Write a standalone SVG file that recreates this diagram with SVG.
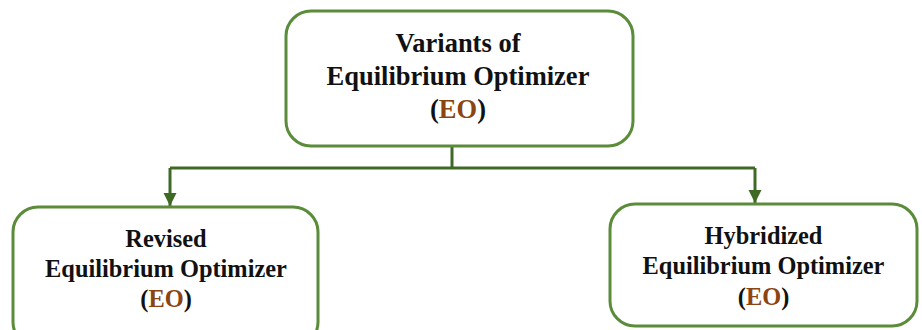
<svg xmlns="http://www.w3.org/2000/svg" width="922" height="330" viewBox="0 0 922 330">
<defs>
<style>
.box{fill:#fff;stroke:#5b8c3a;stroke-width:3}
.t{font-family:"Liberation Serif","Times New Roman",serif;font-weight:bold;fill:#111;text-anchor:middle}
.eo{fill:#8b4513}
.c{fill:none;stroke:#3f6a26;stroke-width:3}
</style>
<marker id="ah" viewBox="0 0 10 10" refX="10" refY="5" markerWidth="4.5" markerHeight="4.5" markerUnits="strokeWidth" orient="auto">
<path d="M0,0 L10,5 L0,10 z" fill="#3f6a26"/>
</marker>
</defs>
<rect width="922" height="330" fill="#fff"/>
<g id="connectors">
<path class="c" d="M452,146 V168"/>
<path class="c" d="M170,168 H755"/>
<path class="c" d="M170,168 V206" marker-end="url(#ah)"/>
<path class="c" d="M755,168 V203" marker-end="url(#ah)"/>
</g>
<g id="n-top">
<rect class="box" x="286" y="11" width="347" height="135" rx="25"/>
<text class="t" font-size="26.5" x="458" y="52">Variants of</text>
<text class="t" font-size="26.5" x="458" y="85">Equilibrium Optimizer</text>
<text class="t" font-size="26.5" x="458" y="118">(<tspan class="eo">EO</tspan>)</text>
</g>
<g id="n-revised">
<rect class="box" x="13" y="207" width="305" height="140" rx="25"/>
<text class="t" font-size="24.4" x="166" y="247">Revised</text>
<text class="t" font-size="24.4" x="166" y="277">Equilibrium Optimizer</text>
<text class="t" font-size="24.4" x="166" y="307">(<tspan class="eo">EO</tspan>)</text>
</g>
<g id="n-hybrid">
<rect class="box" x="610" y="204" width="307" height="122" rx="25"/>
<text class="t" font-size="24.4" x="763.5" y="244">Hybridized</text>
<text class="t" font-size="24.4" x="763.5" y="274">Equilibrium Optimizer</text>
<text class="t" font-size="24.4" x="763.5" y="305">(<tspan class="eo">EO</tspan>)</text>
</g>
</svg>
